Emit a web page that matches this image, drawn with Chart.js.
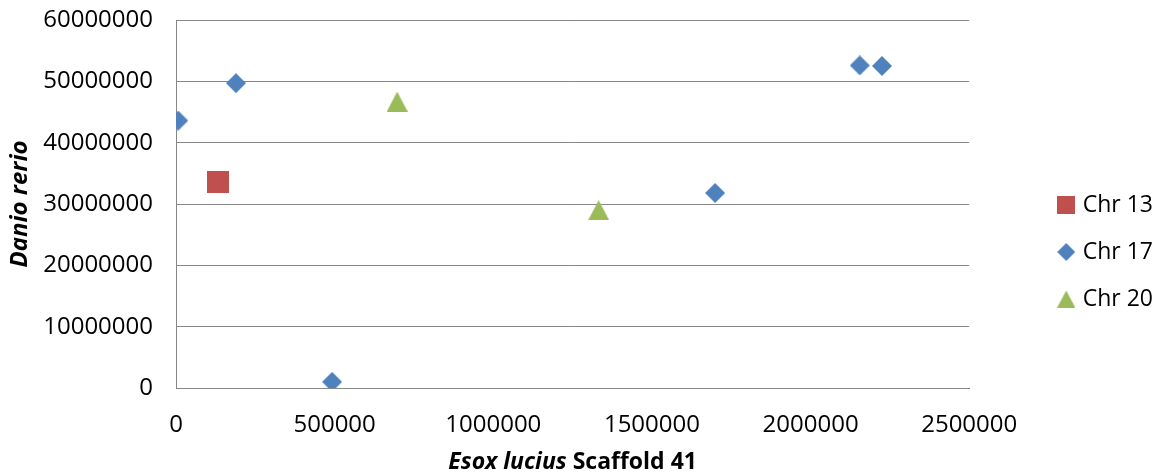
<!DOCTYPE html>
<html><head><meta charset="utf-8">
<script src="https://cdn.jsdelivr.net/npm/chart.js@4/dist/chart.umd.min.js"></script>
<style>html,body{margin:0;padding:0;background:#fff;}</style>
</head><body><canvas id="c" width="1161" height="476"></canvas>
<script>
// ---- data ----
const seriesNames = ['Chr 13', 'Chr 17', 'Chr 20'];
const chr13X = [133000];
const chr13Y = [33600000];
const chr17X = [7000, 189000, 492000, 1699000, 2155000, 2225000];
const chr17Y = [43600000, 49700000, 1000000, 31800000, 52600000, 52500000];
const chr20X = [697000, 1332000];
const chr20Y = [46700000, 29000000];
const xTicks = [0, 500000, 1000000, 1500000, 2000000, 2500000];
const yTicks = [0, 10000000, 20000000, 30000000, 40000000, 50000000, 60000000];
const xTitleItalic = 'Esox lucius';
const xTitleRest = ' Scaffold 41';
const yTitle = 'Danio rerio';

// ---- styles ----
const colors = ['#C0504D', '#4F81BD', '#9BBB59'];
const FONT = '"Open Sans", "Liberation Sans", sans-serif';

function marker(shape, w, h, color) {
  const c = document.createElement('canvas');
  c.width = w; c.height = h;
  const g = c.getContext('2d');
  g.fillStyle = color;
  g.beginPath();
  if (shape === 'square') {
    g.rect(0, 0, w, h);
  } else if (shape === 'diamond') {
    g.moveTo(w / 2, 0); g.lineTo(w, h / 2); g.lineTo(w / 2, h); g.lineTo(0, h / 2);
  } else {
    g.moveTo(w / 2, 0); g.lineTo(w, h); g.lineTo(0, h);
  }
  g.closePath();
  g.fill();
  return c;
}
const dataMarkers = [marker('square', 22, 22, colors[0]), marker('diamond', 20, 20, colors[1]), marker('triangle', 21, 20, colors[2])];
const legendMarkers = [marker('square', 18, 18, colors[0]), marker('diamond', 18, 18, colors[1]), marker('triangle', 18, 17, colors[2])];

function pts(xs, ys) { return xs.map((x, i) => ({ x: x, y: ys[i] })); }

const xTitlePlugin = {
  id: 'xTitle',
  afterLayout(chart) {
    // nudge the legend box into the right margin like the original
    const lg = chart.legend;
    if (lg) { lg.left += 68; lg.right += 68; lg.top += 4; lg.bottom += 4; }
  },
  afterDraw(chart) {
    const ctx = chart.ctx, a = chart.chartArea;
    ctx.save();
    const f1 = 'italic bold 23px ' + FONT, f2 = 'bold 23px ' + FONT;
    ctx.font = f1; const w1 = ctx.measureText(xTitleItalic).width;
    ctx.font = f2; const w2 = ctx.measureText(xTitleRest).width;
    const x = (a.left + a.right) / 2 - (w1 + w2) / 2;
    const y = 462;
    ctx.textBaseline = 'middle';
    ctx.textAlign = 'left';
    ctx.fillStyle = '#000';
    ctx.font = f1; ctx.fillText(xTitleItalic, x, y);
    ctx.font = f2; ctx.fillText(xTitleRest, x + w1, y);
    ctx.restore();
  }
};

new Chart(document.getElementById('c'), {
  type: 'scatter',
  data: {
    datasets: [
      { label: seriesNames[0], data: pts(chr13X, chr13Y), pointStyle: dataMarkers[0], backgroundColor: colors[0], borderColor: colors[0] },
      { label: seriesNames[1], data: pts(chr17X, chr17Y), pointStyle: dataMarkers[1], backgroundColor: colors[1], borderColor: colors[1] },
      { label: seriesNames[2], data: pts(chr20X, chr20Y), pointStyle: dataMarkers[2], backgroundColor: colors[2], borderColor: colors[2] }
    ]
  },
  options: {
    responsive: false,
    animation: false,
    layout: { padding: { top: 20, right: 66, bottom: 0, left: 0 } },
    plugins: {
      tooltip: { enabled: false },
      legend: {
        position: 'right',
        align: 'center',
        labels: {
          usePointStyle: true,
          boxWidth: 10,
          boxHeight: 10,
          padding: 24,
          color: '#000',
          font: { family: FONT, size: 23 },
          generateLabels(chart) {
            return chart.data.datasets.map((d, i) => ({
              text: d.label, pointStyle: legendMarkers[i], fillStyle: colors[i],
              strokeStyle: colors[i], lineWidth: 0, datasetIndex: i, hidden: false, fontColor: '#000'
            }));
          }
        }
      }
    },
    scales: {
      x: {
        type: 'linear',
        min: xTicks[0], max: xTicks[xTicks.length - 1],
        afterBuildTicks(s) { s.ticks = xTicks.map(v => ({ value: v })); },
        afterFit(s) { s.height = 88; s.paddingTop = 0; },
        grid: { display: false, drawTicks: false },
        border: { display: true, color: '#868686', width: 1 },
        ticks: { padding: 23, color: '#000', font: { family: FONT, size: 24 }, maxRotation: 0, callback: v => String(v) }
      },
      y: {
        type: 'linear',
        min: yTicks[0], max: yTicks[yTicks.length - 1],
        afterBuildTicks(s) { s.ticks = yTicks.map(v => ({ value: v })); },
        afterFit(s) { s.width = 176; s.paddingTop = 0; },
        grid: { color: '#868686', lineWidth: 1, drawTicks: false },
        border: { display: true, color: '#868686', width: 1 },
        ticks: { padding: 23, color: '#000', font: { family: FONT, size: 24 }, callback: v => String(v) },
        title: { display: true, text: yTitle, color: '#000', padding: { top: 6, bottom: 0 }, font: { family: FONT, size: 24, style: 'italic', weight: 'bold' } }
      }
    }
  },
  plugins: [xTitlePlugin]
});
</script>
</body></html>
